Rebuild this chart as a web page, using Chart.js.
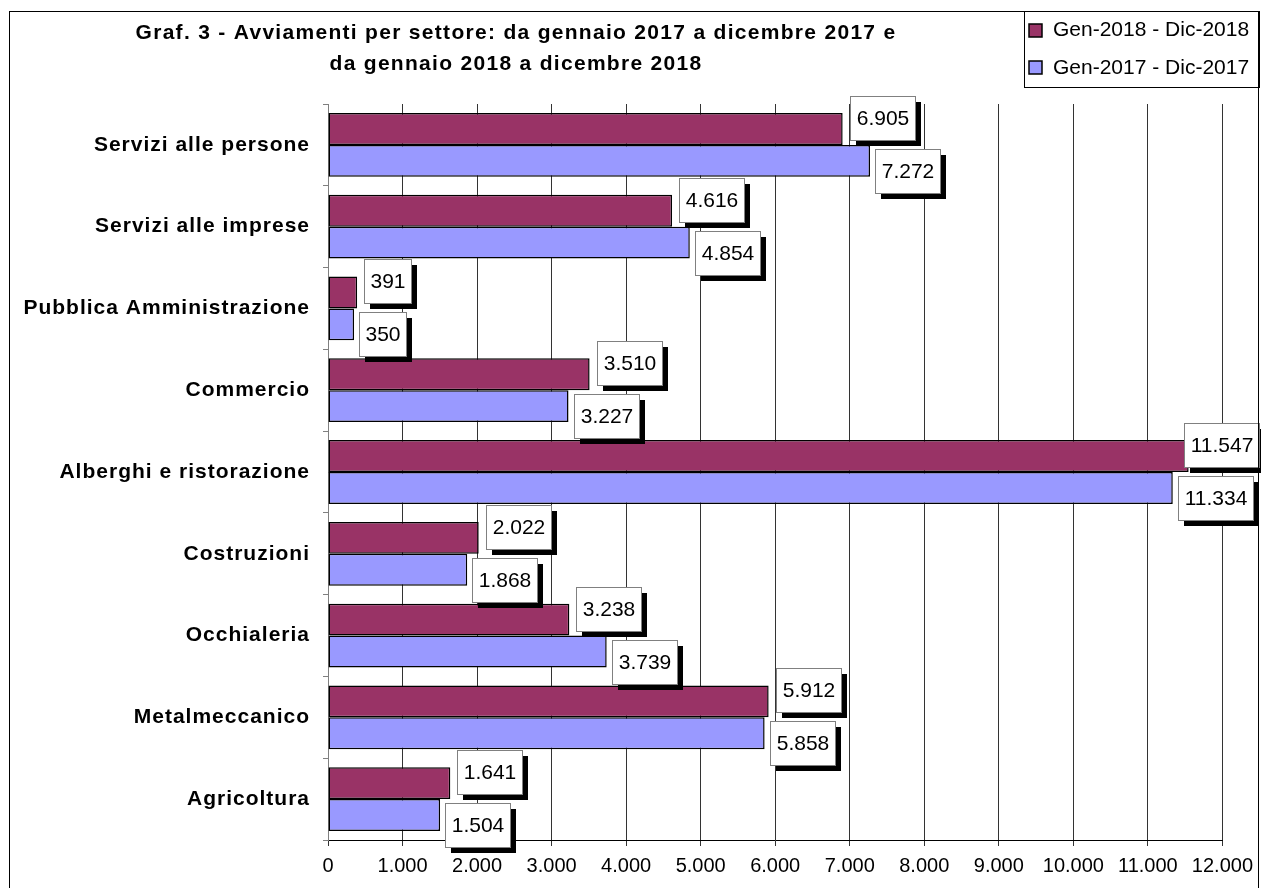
<!DOCTYPE html>
<html><head><meta charset="utf-8">
<script src="https://cdn.jsdelivr.net/npm/chart.js@4/dist/chart.umd.min.js"></script>
<style>html,body{margin:0;padding:0;background:#fff;}#wrap{width:1261px;height:888px;}</style>
</head><body><div id="wrap"><canvas id="c" width="1261" height="888"></canvas></div>
<script>
const categories = ['Servizi alle persone','Servizi alle imprese','Pubblica Amministrazione','Commercio','Alberghi e ristorazione','Costruzioni','Occhialeria','Metalmeccanico','Agricoltura'];
const series2018 = [6905, 4616, 391, 3510, 11547, 2022, 3238, 5912, 1641];
const series2017 = [7272, 4854, 350, 3227, 11334, 1868, 3739, 5858, 1504];
const seriesNames = ['Gen-2018 - Dic-2018', 'Gen-2017 - Dic-2017'];
const seriesColors = ['#993366', '#9999FF'];
const titleLines = ['Graf. 3 - Avviamenti per settore: da gennaio 2017 a dicembre 2017 e', 'da gennaio 2018 a dicembre 2018'];
const xMin = 0, xMax = 12000, xStep = 1000;

const FONT = '"Liberation Sans", Arial, sans-serif';
const fmt = v => String(Math.round(v)).replace(/\B(?=(\d{3})+(?!\d))/g, '.');

const framePlugin = {
  id: 'frame',
  beforeDraw(chart) {
    const ctx = chart.ctx;
    ctx.save();
    ctx.fillStyle = '#fff';
    ctx.fillRect(0, 0, chart.width, chart.height);
    ctx.restore();
  },
  afterDraw(chart) {
    const ctx = chart.ctx;
    ctx.save();
    ctx.strokeStyle = '#000';
    ctx.lineWidth = 1;
    ctx.strokeRect(9.5, 11.5, 1249, 900);
    // title
    ctx.fillStyle = '#000';
    ctx.font = 'bold 21px ' + FONT;
    ctx.letterSpacing = '1.3px';
    ctx.textAlign = 'center';
    ctx.textBaseline = 'alphabetic';
    ctx.fillText(titleLines[0], 516, 39);
    ctx.fillText(titleLines[1], 516, 70);
    ctx.letterSpacing = '0px';
    // legend
    ctx.strokeRect(1024.5, 11.5, 235, 76);
    ctx.font = '21px ' + FONT;
    ctx.textAlign = 'left';
    const rows = [30.5, 68];
    seriesNames.forEach((n, i) => {
      const cy = rows[i];
      ctx.fillStyle = seriesColors[i];
      ctx.fillRect(1029, Math.round(cy - 7), 13, 13);
      ctx.strokeStyle = '#000';
      ctx.lineWidth = 1.5;
      ctx.strokeRect(1029, Math.round(cy - 7), 13, 13);
      ctx.fillStyle = '#000';
      ctx.textBaseline = 'middle';
      ctx.fillText(n, 1053, cy);
    });
    ctx.restore();
  }
};

const labelPlugin = {
  id: 'boxLabels',
  afterDatasetsDraw(chart) {
    const ctx = chart.ctx;
    ctx.save();
    ctx.font = '21px ' + FONT;
    [1, 0].forEach(di => {
      const ds = chart.data.datasets[di];
      const meta = chart.getDatasetMeta(di);
      meta.data.forEach((el, i) => {
        const txt = fmt(ds.data[i]);
        const w = Math.round(ctx.measureText(txt).width + 12), h = 44;
        let x = Math.round(el.x + (di === 0 ? 7 : 5));
        if (x + w > 1259) x = 1259 - w;
        const cy = el.y + (di === 0 ? -11 : 10);
        const y = Math.round(cy - h / 2);
        ctx.fillStyle = '#000';
        ctx.fillRect(x + 6, y + 6, w, h);
        ctx.fillStyle = '#fff';
        ctx.fillRect(x, y, w, h);
        ctx.strokeStyle = '#808080';
        ctx.lineWidth = 1;
        ctx.strokeRect(x + 0.5, y + 0.5, w, h);
        ctx.fillStyle = '#000';
        ctx.textAlign = 'center';
        ctx.textBaseline = 'middle';
        ctx.fillText(txt, x + w / 2 + 0.5, y + h / 2 + 1);
      });
    });
    ctx.restore();
  }
};

function spacedLabels(scale) {
  if (scale._spaced) return;
  scale._spaced = true;
  const orig = scale.drawLabels;
  scale.drawLabels = function (area) {
    const ctx = this.ctx;
    const prev = ctx.letterSpacing;
    ctx.letterSpacing = '1px';
    orig.call(this, area);
    ctx.letterSpacing = prev || '0px';
  };
}

new Chart(document.getElementById('c'), {
  type: 'bar',
  data: {
    labels: categories,
    datasets: [
      { label: seriesNames[0], data: series2018, backgroundColor: seriesColors[0], borderColor: '#000', borderWidth: 1.5, borderSkipped: false },
      { label: seriesNames[1], data: series2017, backgroundColor: seriesColors[1], borderColor: '#000', borderWidth: 1.5, borderSkipped: false }
    ]
  },
  options: {
    indexAxis: 'y',
    responsive: false,
    animation: false,
    events: [],
    categoryPercentage: 0.78,
    barPercentage: 1.0,
    layout: { padding: { top: 104, left: 0, right: 35, bottom: 0 } },
    plugins: { legend: { display: false }, title: { display: false }, tooltip: { enabled: false } },
    scales: {
      x: {
        type: 'linear', min: xMin, max: xMax,
        afterFit: s => { s.height = 48; },
        ticks: { stepSize: xStep, color: '#000', font: { family: FONT, size: 20 }, padding: 8, maxRotation: 0, callback: v => fmt(v) },
        grid: { color: '#333333', lineWidth: 1, tickLength: 6, drawTicks: true },
        border: { display: true, color: '#000', width: 1 }
      },
      y: {
        afterFit: s => { s.width = 328; },
        afterUpdate: spacedLabels,
        ticks: { color: '#000', font: { family: FONT, size: 21, weight: 'bold' }, padding: 13 },
        grid: { display: true, drawOnChartArea: false, drawTicks: true, tickLength: 5, color: '#808080', offset: true },
        border: { display: true, color: '#808080', width: 1 }
      }
    }
  },
  plugins: [framePlugin, labelPlugin]
});
</script>
</body></html>
